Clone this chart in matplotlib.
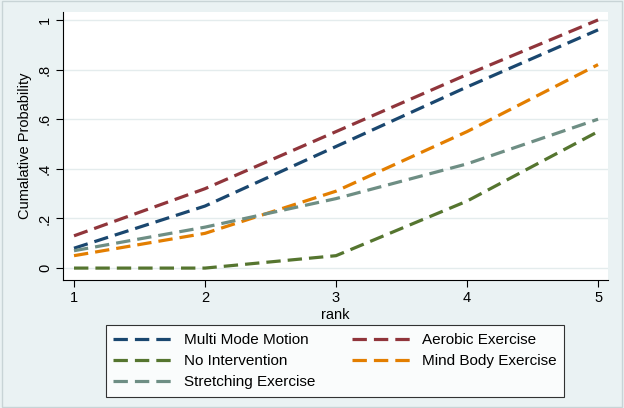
import matplotlib
matplotlib.use('Agg')
import matplotlib.pyplot as plt
from matplotlib.patches import Rectangle

plt.rcParams['font.family'] = ['Liberation Sans', 'DejaVu Sans']

rank = [1, 2, 3, 4, 5]
multi_mode = [0.08, 0.25, 0.49, 0.73, 0.96]
aerobic = [0.13, 0.32, 0.55, 0.78, 1.00]
no_interv = [0.00, 0.00, 0.05, 0.27, 0.55]
mind_body = [0.05, 0.14, 0.31, 0.55, 0.82]
stretching = [0.07, 0.165, 0.28, 0.42, 0.60]

series = [
    ('Multi Mode Motion', multi_mode, '#1a476f'),
    ('Aerobic Exercise', aerobic, '#90353b'),
    ('No Intervention', no_interv, '#55752f'),
    ('Mind Body Exercise', mind_body, '#e37e00'),
    ('Stretching Exercise', stretching, '#6e8e84'),
]

bg = '#eaf2f3'
fig = plt.figure(figsize=(6.24, 4.08), dpi=100, facecolor=bg)
fig.patches.append(Rectangle((0.003, 0.003), 0.994, 0.994, transform=fig.transFigure,
                             fill=False, edgecolor='#c8d4d6', lw=1))
ax = fig.add_axes([63/624, 1-280/408, (608-63)/624, (280-12)/408])
ax.set_facecolor('white')

for name, vals, col in series:
    ax.plot(rank, vals, color=col, lw=2.3, dashes=(4.5, 2.2), label=name)

ax.set_xlim(0.916, 5.076)
ax.set_ylim(-0.048, 1.032)
ax.set_xticks(rank)
ax.set_yticks([0, 0.2, 0.4, 0.6, 0.8, 1.0])
ax.set_yticklabels(['0', '.2', '.4', '.6', '.8', '1'], rotation=90, va='center')
ax.grid(axis='y', color='#e4eced', lw=1)
ax.set_axisbelow(True)
for s in ['top', 'right']:
    ax.spines[s].set_visible(False)
for s in ['left', 'bottom']:
    ax.spines[s].set_color('black')
    ax.spines[s].set_linewidth(0.8)
ax.tick_params(direction='out', length=5, width=0.8, labelsize=10.5, pad=3)
ax.set_xlabel('rank', fontsize=10.5, labelpad=2)
ax.set_ylabel('Cumalative Probability', fontsize=10.5, labelpad=4)

# stata fills the legend row by row, matplotlib column by column
handles, labels = ax.get_legend_handles_labels()
order = [0, 2, 4, 1, 3]
leg = fig.legend([handles[i] for i in order], [labels[i] for i in order],
                 ncol=2, loc='center',
                 bbox_to_anchor=(335/624, 1-361/408), frameon=True,
                 fancybox=False, edgecolor='black', fontsize=11,
                 handlelength=3.8, columnspacing=2.4, labelspacing=0.45,
                 borderpad=0.5, handletextpad=0.8)
leg.get_frame().set_linewidth(0.8)

fig.savefig('out.png', dpi=100, facecolor=bg)
